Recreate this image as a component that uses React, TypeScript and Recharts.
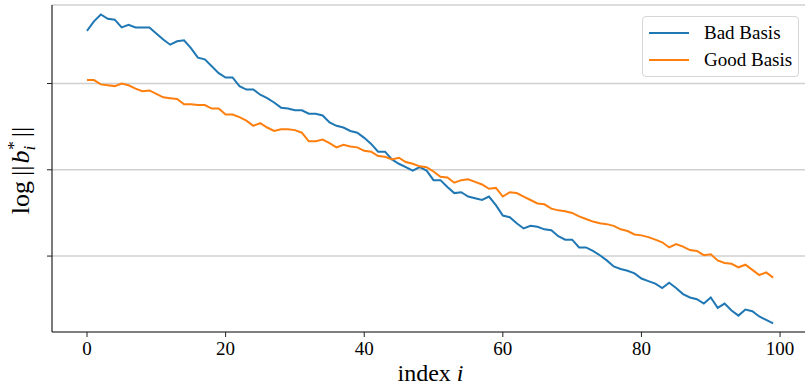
import { LineChart, Line, XAxis, YAxis, CartesianGrid, Legend } from 'recharts';

// x positions (vector index)
const indices = Array.from({ length: 100 }, (_, k) => k);

// log ||b_i*|| (arbitrary units, gridlines at 1, 2, 3)
const badBasis = [
  3.61, 3.72, 3.80, 3.75, 3.74, 3.65, 3.68, 3.65, 3.65, 3.65,
  3.58, 3.51, 3.45, 3.49, 3.50, 3.41, 3.30, 3.28, 3.20, 3.12,
  3.07, 3.07, 2.97, 2.93, 2.93, 2.87, 2.83, 2.78, 2.72, 2.71,
  2.69, 2.69, 2.65, 2.65, 2.63, 2.55, 2.51, 2.49, 2.45, 2.43,
  2.37, 2.30, 2.21, 2.21, 2.12, 2.07, 2.03, 1.99, 2.03, 1.99,
  1.88, 1.88, 1.80, 1.73, 1.74, 1.69, 1.67, 1.65, 1.69, 1.59,
  1.47, 1.45, 1.38, 1.32, 1.35, 1.34, 1.31, 1.30, 1.23, 1.19,
  1.19, 1.10, 1.10, 1.06, 1.01, 0.95, 0.88, 0.85, 0.83, 0.80,
  0.74, 0.71, 0.68, 0.63, 0.69, 0.63, 0.56, 0.52, 0.50, 0.45,
  0.52, 0.40, 0.45, 0.37, 0.31, 0.38, 0.36, 0.30, 0.26, 0.22,
];

const goodBasis = [
  3.04, 3.04, 2.99, 2.98, 2.97, 3.00, 2.98, 2.94, 2.91, 2.92,
  2.88, 2.84, 2.83, 2.82, 2.76, 2.76, 2.75, 2.75, 2.71, 2.71,
  2.64, 2.64, 2.61, 2.57, 2.51, 2.54, 2.49, 2.45, 2.47, 2.47,
  2.46, 2.43, 2.33, 2.33, 2.35, 2.31, 2.26, 2.29, 2.27, 2.26,
  2.22, 2.21, 2.16, 2.15, 2.12, 2.14, 2.09, 2.07, 2.04, 2.03,
  1.98, 1.92, 1.91, 1.85, 1.88, 1.89, 1.86, 1.83, 1.78, 1.79,
  1.69, 1.74, 1.73, 1.69, 1.65, 1.61, 1.60, 1.55, 1.53, 1.52,
  1.50, 1.46, 1.43, 1.40, 1.38, 1.37, 1.35, 1.31, 1.29, 1.25,
  1.24, 1.22, 1.19, 1.16, 1.10, 1.14, 1.11, 1.07, 1.06, 1.01,
  1.02, 0.95, 0.92, 0.91, 0.87, 0.90, 0.84, 0.78, 0.81, 0.75,
];

const xTicks = [0, 20, 40, 60, 80, 100];
const yTicks = [1, 2, 3];

const data = indices.map((i, k) => ({ i, bad: badBasis[k], good: goodBasis[k] }));

const FONT = '"Liberation Serif", "DejaVu Serif", serif';
const SPINE = '#222';

function renderYTitle(props: any) {
  const vb = props.viewBox || { x: 0, y: 5, width: 52, height: 327 };
  const cx = vb.x + 29;
  const cy = vb.y + vb.height / 2 + 2;
  return (
    <text
      x={cx}
      y={cy}
      transform={`rotate(-90, ${cx}, ${cy})`}
      textAnchor="middle"
      fontFamily={FONT}
      fontSize={26}
      fill="#000"
    >
      log<tspan dx={5}>||</tspan>
      <tspan dx={2} fontStyle="italic">b</tspan>
      <tspan fontStyle="italic" fontSize={17} dy={6}>i</tspan>
      <tspan fontSize={17} dx={-4} dy={-16}>*</tspan>
      <tspan dx={4} dy={10}>||</tspan>
    </text>
  );
}

function renderXTitle(props: any) {
  const vb = props.viewBox || { x: 52, y: 332, width: 753, height: 52 };
  return (
    <text
      x={vb.x + vb.width / 2 + 2}
      y={vb.y + 49}
      textAnchor="middle"
      fontFamily={FONT}
      fontSize={24}
      fill="#000"
    >
      index <tspan fontStyle="italic">i</tspan>
    </text>
  );
}

function LegendBox({ payload }: any) {
  return (
    <div
      style={{
        boxSizing: 'border-box',
        width: 157,
        height: 61,
        border: '1px solid #d6d6d6',
        borderRadius: 4,
        background: 'rgba(255,255,255,0.85)',
        padding: '3px 0 0 6px',
        fontFamily: FONT,
        fontSize: 19,
        color: '#000',
      }}
    >
      {(payload || []).map((p: any) => (
        <div key={p.value} style={{ display: 'flex', alignItems: 'center', height: 26.5 }}>
          <span style={{ display: 'inline-block', width: 40, height: 2, background: p.color, marginRight: 15 }} />
          <span>{p.value}</span>
        </div>
      ))}
    </div>
  );
}

export default function App() {
  return (
    <div style={{ position: 'absolute', left: 0, top: 0, width: 805, height: 384, background: '#fff' }}>
      <LineChart width={805} height={384} data={data} margin={{ top: 5, right: 0, bottom: 0, left: 0 }}>
        <CartesianGrid horizontal vertical={false} stroke="#d0d0d0" strokeWidth={1.5} />
        <XAxis
          dataKey="i"
          type="number"
          domain={[-5.05, 103.6]}
          allowDataOverflow
          ticks={xTicks}
          height={52}
          tickSize={5}
          tickMargin={5}
          axisLine={{ stroke: SPINE, strokeWidth: 1.2 }}
          tickLine={{ stroke: SPINE }}
          tick={{ fontFamily: FONT, fontSize: 19, fill: '#000' }}
          label={{ content: renderXTitle }}
        />
        <XAxis
          xAxisId="top"
          orientation="top"
          dataKey="i"
          type="number"
          domain={[-5.05, 103.6]}
          allowDataOverflow
          height={0}
          tick={false}
          tickLine={false}
          axisLine={{ stroke: SPINE, strokeWidth: 1.2 }}
        />
        <YAxis
          type="number"
          domain={[0.12, 3.91]}
          allowDataOverflow
          ticks={yTicks}
          width={52}
          tickSize={5}
          tickFormatter={() => ''}
          axisLine={{ stroke: SPINE, strokeWidth: 1.2 }}
          tickLine={{ stroke: SPINE }}
          label={{ content: renderYTitle }}
        />
        <Legend
          layout="horizontal"
          verticalAlign="middle"
          align="center"
          content={<LegendBox />}
          wrapperStyle={{ top: 16, left: 642, width: 157 }}
        />
        <Line
          type="linear"
          dataKey="bad"
          name="Bad Basis"
          stroke="#1f77b4"
          strokeWidth={2}
          dot={false}
          activeDot={false}
          isAnimationActive={false}
        />
        <Line
          type="linear"
          dataKey="good"
          name="Good Basis"
          stroke="#ff7f0e"
          strokeWidth={2}
          dot={false}
          activeDot={false}
          isAnimationActive={false}
        />
      </LineChart>
    </div>
  );
}
